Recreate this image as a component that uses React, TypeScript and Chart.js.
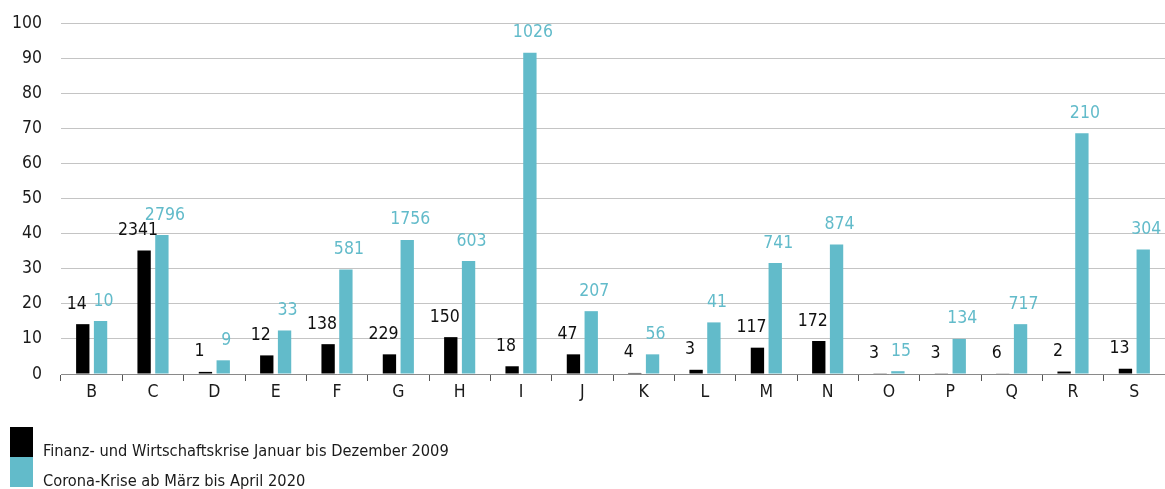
import React, { useEffect, useRef } from "react";
import { Chart, registerables } from "chart.js";

Chart.register(...registerables);

const categories = ["B", "C", "D", "E", "F", "G", "H", "I", "J", "K", "L", "M", "N", "O", "P", "Q", "R", "S"];
const crisis2009 = [14.2, 35.2, 0.6, 5.3, 8.5, 5.6, 10.5, 2.2, 5.6, 0.3, 1.2, 7.5, 9.4, 0.2, 0.2, 0.1, 0.7, 1.5];
const corona2020 = [15.1, 39.6, 3.9, 12.4, 29.8, 38.2, 32.2, 91.5, 17.9, 5.6, 14.7, 31.6, 36.9, 0.8, 10.0, 14.2, 68.6, 35.5];
const crisis2009Labels = ["14", "2341", "1", "12", "138", "229", "150", "18", "47", "4", "3", "117", "172", "3", "3", "6", "2", "13"];
const corona2020Labels = ["10", "2796", "9", "33", "581", "1756", "603", "1026", "207", "56", "41", "741", "874", "15", "134", "717", "210", "304"];
const seriesNames = [
  "Finanz- und Wirtschaftskrise Januar bis Dezember 2009",
  "Corona-Krise ab März bis April 2020",
];
const yMin = 0;
const yMax = 100;
const yStep = 10;

const BLACK = "#000000";
const CYAN = "#62bbca";
const FONT = "'Liberation Sans Narrow', 'Arial Narrow', 'DejaVu Sans Condensed', sans-serif";

const valueLabelPlugin = {
  id: "valueLabels",
  afterDatasetsDraw(chart: any) {
    const ctx = chart.ctx;
    const allLabels = [crisis2009Labels, corona2020Labels];
    const dxs = [-6, 3];
    ctx.save();
    ctx.font = `17.5px ${FONT}`;
    ctx.textAlign = "center";
    ctx.textBaseline = "middle";
    chart.data.datasets.forEach((ds: any, di: number) => {
      const meta = chart.getDatasetMeta(di);
      ctx.fillStyle = di === 0 ? "#111111" : ds.backgroundColor;
      meta.data.forEach((el: any, i: number) => {
        ctx.fillText(allLabels[di][i], el.x + dxs[di], el.y - 20);
      });
    });
    ctx.restore();
  },
};

const legendPlugin = {
  id: "customLegend",
  afterDraw(chart: any) {
    const ctx = chart.ctx;
    ctx.save();
    ctx.font = `16.3px ${FONT}`;
    ctx.textAlign = "left";
    ctx.textBaseline = "middle";
    chart.data.datasets.forEach((ds: any, di: number) => {
      const top = 427 + di * 30;
      ctx.fillStyle = ds.backgroundColor;
      ctx.fillRect(10, top, 23, 30);
      ctx.fillStyle = "#1a1a1a";
      ctx.fillText(ds.label, 43, top + 25);
    });
    ctx.restore();
  },
};

export default function App() {
  const ref = useRef<HTMLCanvasElement>(null);
  useEffect(() => {
    document.body.style.margin = "0";
    const chart = new Chart(ref.current!, {
      type: "bar",
      data: {
        labels: categories,
        datasets: [
          { label: seriesNames[0], data: crisis2009, backgroundColor: BLACK },
          { label: seriesNames[1], data: corona2020, backgroundColor: CYAN },
        ],
      },
      options: {
        responsive: false,
        animation: false,
        events: [],
        layout: { padding: { top: 23, left: 0, right: 0, bottom: 0 } },
        datasets: {
          bar: { categoryPercentage: 0.58, barPercentage: 0.75 },
        },
        plugins: {
          legend: { display: false },
          tooltip: { enabled: false },
        },
        scales: {
          x: {
            afterFit: (s: any) => { s.height = 115; s.paddingLeft = 0; s.paddingRight = 0; },
            grid: {
              display: true,
              offset: true,
              drawOnChartArea: false,
              drawTicks: true,
              tickLength: 7,
              color: "#555555",
              lineWidth: 1,
            },
            border: { display: true, color: "#8a8a8a", width: 1 },
            ticks: {
              color: "#1a1a1a",
              font: { family: FONT, size: 17.5 },
              padding: 1,
              maxRotation: 0,
            },
          },
          y: {
            min: yMin,
            max: yMax,
            afterFit: (s: any) => { s.width = 61; s.paddingTop = 0; s.paddingBottom = 0; },
            grid: { color: "#c4c4c4", lineWidth: 1, drawTicks: false },
            border: { display: false },
            ticks: {
              stepSize: yStep,
              color: "#1a1a1a",
              font: { family: FONT, size: 17.5 },
              padding: 19,
            },
          },
        },
      },
      plugins: [valueLabelPlugin, legendPlugin],
    });
    return () => chart.destroy();
  }, []);
  return (
    <div style={{ width: 1165, height: 489 }}>
      <canvas ref={ref} width={1165} height={489} style={{ display: "block" }} />
    </div>
  );
}
